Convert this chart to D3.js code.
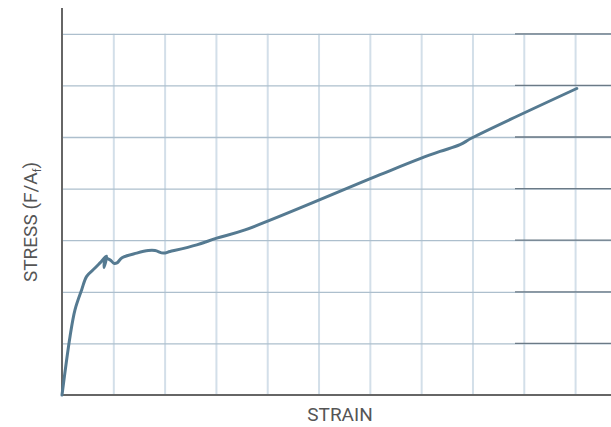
<!DOCTYPE html>
<html>
<head>
<meta charset="utf-8">
<script src="https://cdn.jsdelivr.net/npm/d3@7"></script>
<style>
  body { margin: 0; background: #fff; }
  .axis-label { font-family: Roboto, "Noto Sans", sans-serif; fill: #555; }
</style>
</head>
<body>
<div id="chart"></div>
<script>
// stress-strain curve (grid units)
const strain = [0, 0.156, 0.253, 0.384, 0.481, 0.643, 0.741, 0.867, 0.819, 0.848, 0.936, 1.014, 1.072, 1.170,
  1.456, 1.682, 1.813, 1.975, 2.105, 2.626, 3.016, 3.567, 6.199, 6.979, 7.368, 7.758, 7.986, 10.033];
const stress = [0, 1.13, 1.65, 2.04, 2.30, 2.46, 2.56, 2.69, 2.47, 2.64, 2.62, 2.55, 2.56, 2.66,
  2.75, 2.80, 2.80, 2.75, 2.78, 2.91, 3.04, 3.20, 4.27, 4.58, 4.72, 4.85, 4.98, 5.94];
const xTicks = [1, 2, 3, 4, 5, 6, 7, 8, 9, 10];
const yTicks = [1, 2, 3, 4, 5, 6, 7];

const width = 611, height = 427;
const margin = { top: 8, right: 0, bottom: 32, left: 62 };
const innerWidth = width - margin.left - margin.right;
const innerHeight = height - margin.top - margin.bottom;

const svg = d3.select("#chart")
  .append("svg")
  .attr("width", width)
  .attr("height", height);

const inner = svg.append("g")
  .attr("transform", `translate(${margin.left},${margin.top})`);

const xScale = d3.scaleLinear().domain([0, 10.7]).range([0, innerWidth]);
const yScale = d3.scaleLinear().domain([0, 7.5]).range([innerHeight, 0]);

// vertical grid, from the top grid line down to the axis
inner.append("g")
  .attr("transform", `translate(0, ${innerHeight})`)
  .call(d3.axisBottom(xScale).tickValues(xTicks).tickSize(-(innerHeight - yScale(7))).tickFormat(""))
  .call(g => g.select(".domain").remove())
  .call(g => g.selectAll(".tick line").attr("stroke", "#d3dfe9").attr("stroke-width", 2));

// horizontal grid
inner.append("g")
  .call(d3.axisLeft(yScale).tickValues(yTicks).tickSize(-innerWidth).tickFormat(""))
  .call(g => g.select(".domain").remove())
  .call(g => g.selectAll(".tick line").attr("stroke", "#adbfcd").attr("stroke-width", 1.3));

// darker stubs on the right side of the grid lines
inner.append("g")
  .selectAll("line")
  .data(yTicks)
  .join("line")
    .attr("x1", 453)
    .attr("x2", innerWidth)
    .attr("y1", d => yScale(d))
    .attr("y2", d => yScale(d))
    .attr("stroke", "#6b7a86")
    .attr("stroke-width", 1.3);

// axes
inner.append("line")
  .attr("x1", 0).attr("x2", 0)
  .attr("y1", 0).attr("y2", innerHeight + 1)
  .attr("stroke", "#666").attr("stroke-width", 2);
inner.append("line")
  .attr("x1", -1).attr("x2", innerWidth)
  .attr("y1", innerHeight).attr("y2", innerHeight)
  .attr("stroke", "#666").attr("stroke-width", 2);

// curve
const points = strain.map((s, i) => [s, stress[i]]);
inner.append("path")
  .datum(points)
  .attr("fill", "none")
  .attr("stroke", "#557a91")
  .attr("stroke-width", 3)
  .attr("stroke-linejoin", "round")
  .attr("stroke-linecap", "round")
  .attr("d", d3.line()
    .x(d => xScale(d[0]))
    .y(d => yScale(d[1]))
    .curve(d3.curveCatmullRom.alpha(0.5)));

// labels
svg.append("text")
  .attr("class", "axis-label")
  .attr("x", 340)
  .attr("y", 421)
  .attr("text-anchor", "middle")
  .attr("font-size", "19px")
  .text("STRAIN");

const yLabel = svg.append("text")
  .attr("class", "axis-label")
  .attr("transform", "translate(37, 282) rotate(-90)")
  .attr("font-size", "19px");
yLabel.append("tspan").text("STRESS (F/A");
yLabel.append("tspan").attr("font-size", "11px").attr("dy", 4).text("f");
yLabel.append("tspan").attr("dy", -4).text(")");
</script>
</body>
</html>
